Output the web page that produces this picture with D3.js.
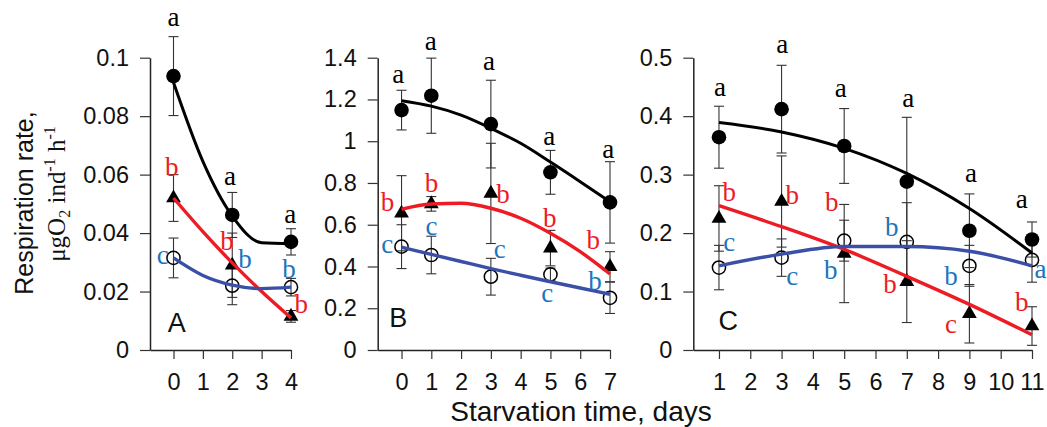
<!DOCTYPE html>
<html>
<head>
<meta charset="utf-8">
<script src="https://cdn.jsdelivr.net/npm/d3@7/dist/d3.min.js"></script>
<style>
  html, body { margin: 0; padding: 0; background: #fff; }
  svg { display: block; }
</style>
</head>
<body>
<svg id="chart" width="1047" height="427"></svg>
<script>
// ---------------- DATA ----------------
// Panel A
const daysA = [0, 2, 4];
const fedA = [0.0937, 0.0462, 0.037];
const fedSdA = [0.0135, 0.0077, 0.0045];
const triA = [0.052, 0.029, 0.0115];
const triSdA = [0.008, 0.011, 0.002];
const openA = [0.0315, 0.022, 0.0215];
const openSdA = [0.0068, 0.0065, 0.003];
const fitDaysA = [0, 1, 2, 3, 4];
const fedFitA = [0.0915, 0.0645, 0.0458, 0.0367, 0.0364];
const triFitA = [0.052, 0.0405, 0.0298, 0.0200, 0.0110];
const openFitA = [0.0315, 0.0255, 0.0222, 0.0210, 0.0215];
const yTickValsA = [0, 0.02, 0.04, 0.06, 0.08, 0.1];
const yTickLabelsA = ["0", "0.02", "0.04", "0.06", "0.08", "0.1"];
const xTicksA = [0, 1, 2, 3, 4];
const lettersA = [
  {d: 0, v: 0.1129, t: "a", s: "fed"}, {d: 1.92, v: 0.0588, t: "a", s: "fed"}, {d: 3.97, v: 0.0455, t: "a", s: "fed"},
  {d: -0.06, v: 0.0629, t: "b", s: "tri"}, {d: 1.82, v: 0.0376, t: "b", s: "tri"}, {d: 4.35, v: 0.0161, t: "b", s: "tri"},
  {d: -0.37, v: 0.0318, t: "c", s: "open"}, {d: 2.43, v: 0.0315, t: "b", s: "open"}, {d: 3.93, v: 0.028, t: "b", s: "open"}
];

// Panel B
const daysB = [0, 1, 3, 5, 7];
const fedB = [1.149, 1.218, 1.082, 0.851, 0.707];
const fedSdB = [0.095, 0.18, 0.21, 0.105, 0.195];
const triB = [0.655, 0.70, 0.75, 0.488, 0.399];
const triSdB = [0.18, 0.035, 0.24, 0.085, 0.072];
const openB = [0.495, 0.455, 0.351, 0.362, 0.25];
const openSdB = [0.105, 0.09, 0.088, 0.03, 0.075];
const fitDaysB = [0, 1, 2, 3, 4, 5, 6, 7];
const fedFitB = [1.194, 1.168, 1.125, 1.062, 0.99, 0.90, 0.806, 0.71];
const triFitB = [0.674, 0.699, 0.703, 0.679, 0.631, 0.559, 0.471, 0.364];
const openFitB = [0.492, 0.458, 0.424, 0.390, 0.358, 0.327, 0.297, 0.267];
const yTickValsB = [0, 0.2, 0.4, 0.6, 0.8, 1, 1.2, 1.4];
const yTickLabelsB = ["0", "0.2", "0.4", "0.6", "0.8", "1", "1.2", "1.4"];
const xTicksB = [0, 1, 2, 3, 4, 5, 6, 7];
const lettersB = [
  {d: -0.11, v: 1.309, t: "a", s: "fed"}, {d: 0.98, v: 1.469, t: "a", s: "fed"}, {d: 2.94, v: 1.373, t: "a", s: "fed"},
  {d: 4.96, v: 1.014, t: "a", s: "fed"}, {d: 6.94, v: 0.950, t: "a", s: "fed"},
  {d: -0.47, v: 0.710, t: "b", s: "tri"}, {d: 1.01, v: 0.801, t: "b", s: "tri"}, {d: 3.41, v: 0.753, t: "b", s: "tri"},
  {d: 4.98, v: 0.636, t: "b", s: "tri"}, {d: 6.44, v: 0.530, t: "b", s: "tri"},
  {d: -0.48, v: 0.495, t: "c", s: "open"}, {d: 1.01, v: 0.583, t: "c", s: "open"}, {d: 3.30, v: 0.471, t: "c", s: "open"},
  {d: 4.89, v: 0.263, t: "c", s: "open"}, {d: 6.50, v: 0.335, t: "b", s: "open"}
];

// Panel C
const daysC = [1, 3, 5, 7, 9, 11];
const fedC = [0.364, 0.412, 0.349, 0.288, 0.204, 0.189];
const fedSdC = [0.053, 0.075, 0.064, 0.11, 0.063, 0.03];
const triC = [0.225, 0.254, 0.165, 0.117, 0.062, 0.041];
const triSdC = [0.056, 0.078, 0.084, 0.07, 0.05, 0.033];
const openC = [0.141, 0.158, 0.187, 0.185, 0.144, 0.154];
const openSdC = [0.038, 0.032, 0.035, 0.067, 0.035, 0.038];
const fitDaysC = [1, 3, 5, 7, 9, 11];
const fedFitC = [0.389, 0.373, 0.345, 0.302, 0.242, 0.166];
const triFitC = [0.247, 0.211, 0.172, 0.126, 0.078, 0.026];
const openFitC = [0.144, 0.164, 0.177, 0.177, 0.169, 0.144];
const yTickValsC = [0, 0.1, 0.2, 0.3, 0.4, 0.5];
const yTickLabelsC = ["0", "0.1", "0.2", "0.3", "0.4", "0.5"];
const xTicksC = [1, 2, 3, 4, 5, 6, 7, 8, 9, 10, 11];
const lettersC = [
  {d: 1.03, v: 0.446, t: "a", s: "fed"}, {d: 3.02, v: 0.519, t: "a", s: "fed"}, {d: 4.89, v: 0.444, t: "a", s: "fed"},
  {d: 7.05, v: 0.426, t: "a", s: "fed"}, {d: 9.05, v: 0.299, t: "a", s: "fed"}, {d: 10.67, v: 0.254, t: "a", s: "fed"},
  {d: 1.33, v: 0.271, t: "b", s: "tri"}, {d: 3.34, v: 0.267, t: "b", s: "tri"}, {d: 4.60, v: 0.254, t: "b", s: "tri"},
  {d: 6.46, v: 0.114, t: "b", s: "tri"}, {d: 8.41, v: 0.041, t: "c", s: "tri"}, {d: 10.67, v: 0.083, t: "b", s: "tri"},
  {d: 1.33, v: 0.180, t: "c", s: "open"}, {d: 3.34, v: 0.123, t: "c", s: "open"}, {d: 4.57, v: 0.138, t: "b", s: "open"},
  {d: 6.52, v: 0.211, t: "b", s: "open"}, {d: 8.41, v: 0.128, t: "b", s: "open"}, {d: 11.27, v: 0.134, t: "a", s: "open"}
];

const panelNames = ["A", "B", "C"];
const panelLabelPos = [{d: 0.11, v: 0.0096}, {d: -0.11, v: 0.159}, {d: 1.30, v: 0.051}];
const yTitle1 = "Respiration rate,";
const xTitle = "Starvation time, days";

// ---------------- STYLE / LAYOUT ----------------
const lineColor = {fed: "#000000", tri: "#ed1c24", open: "#3a4fa5"};
const letterColor = {fed: "#000000", tri: "#ed1c24", open: "#1b75bc"};
const lineWidth = {fed: 3, tri: 3.4, open: 3.4};
const SANS = "'Liberation Sans', Arial, sans-serif";
const SERIF = "'Liberation Serif', 'Times New Roman', serif";
const Y0 = 350, Y1 = 57.7;

const panels = [
  {xDomain: [-0.8, 4], xRange: [150, 291], yMax: 0.1, days: daysA,
   fed: fedA, fedSd: fedSdA, tri: triA, triSd: triSdA, open: openA, openSd: openSdA,
   fitDays: fitDaysA, fedFit: fedFitA, triFit: triFitA, openFit: openFitA,
   yVals: yTickValsA, yLabels: yTickLabelsA, xTicks: xTicksA, letters: lettersA},
  {xDomain: [-0.8, 7], xRange: [377.7, 610], yMax: 1.4, days: daysB,
   fed: fedB, fedSd: fedSdB, tri: triB, triSd: triSdB, open: openB, openSd: openSdB,
   fitDays: fitDaysB, fedFit: fedFitB, triFit: triFitB, openFit: openFitB,
   yVals: yTickValsB, yLabels: yTickLabelsB, xTicks: xTicksB, letters: lettersB},
  {xDomain: [0.18, 11], xRange: [693.3, 1032], yMax: 0.5, days: daysC,
   fed: fedC, fedSd: fedSdC, tri: triC, triSd: triSdC, open: openC, openSd: openSdC,
   fitDays: fitDaysC, fedFit: fedFitC, triFit: triFitC, openFit: openFitC,
   yVals: yTickValsC, yLabels: yTickLabelsC, xTicks: xTicksC, letters: lettersC}
];

const svg = d3.select("#chart");

panels.forEach((p, pi) => {
  const x = d3.scaleLinear().domain(p.xDomain).range(p.xRange);
  const y = d3.scaleLinear().domain([0, p.yMax]).range([Y0, Y1]);
  const g = svg.append("g");

  // axes
  const yAxis = d3.axisLeft(y).tickValues(p.yVals).tickFormat((d, i) => p.yLabels[i])
    .tickSize(10).tickPadding(11).tickSizeOuter(0);
  const xAxis = d3.axisBottom(x).tickValues(p.xTicks).tickFormat(d3.format("d"))
    .tickSize(9).tickPadding(14).tickSizeOuter(0);
  const ya = g.append("g").attr("transform", `translate(${p.xRange[0]},0)`).call(yAxis);
  const xa = g.append("g").attr("transform", `translate(0,${Y0})`).call(xAxis);
  [ya, xa].forEach(a => {
    a.select(".domain").attr("stroke", "#222").attr("stroke-width", 1.5);
    a.selectAll(".tick line").attr("stroke", "#333").attr("stroke-width", 1.2);
    a.selectAll(".tick text").attr("fill", "#111").style("font-family", SANS).style("font-size", "23.5px");
  });

  // error bars
  const series = ["fed", "tri", "open"];
  series.forEach(s => {
    const vals = p[s], sds = p[s + "Sd"];
    const eg = g.append("g").attr("stroke", "#333").attr("stroke-width", 1.1).attr("fill", "none");
    p.days.forEach((d, i) => {
      const cx = x(d), yt = y(vals[i] + sds[i]), yb = y(Math.max(0, vals[i] - sds[i]));
      eg.append("line").attr("x1", cx).attr("x2", cx).attr("y1", yt).attr("y2", yb);
      eg.append("line").attr("x1", cx - 5).attr("x2", cx + 5).attr("y1", yt).attr("y2", yt);
      eg.append("line").attr("x1", cx - 5).attr("x2", cx + 5).attr("y1", yb).attr("y2", yb);
    });
  });

  // markers
  g.selectAll(".fedpt").data(p.days).enter().append("circle")
    .attr("cx", d => x(d)).attr("cy", (d, i) => y(p.fed[i])).attr("r", 7.3).attr("fill", "#000");
  g.selectAll(".tript").data(p.days).enter().append("path")
    .attr("d", d3.symbol().type(d3.symbolTriangle).size(95))
    .attr("transform", (d, i) => `translate(${x(d)},${y(p.tri[i])})`).attr("fill", "#000");
  g.selectAll(".openpt").data(p.days).enter().append("circle")
    .attr("cx", d => x(d)).attr("cy", (d, i) => y(p.open[i])).attr("r", 6.6)
    .attr("fill", "none").attr("stroke", "#000").attr("stroke-width", 1.5);

  // fitted curves
  series.forEach(s => {
    const fit = p[s + "Fit"];
    const line = d3.line().x(d => x(d)).y((d, i) => y(fit[i])).curve(d3.curveMonotoneX);
    g.append("path").attr("d", line(p.fitDays)).attr("fill", "none")
      .attr("stroke", lineColor[s]).attr("stroke-width", lineWidth[s]).attr("stroke-linecap", "butt");
  });

  // significance letters
  g.selectAll(".lt").data(p.letters).enter().append("text")
    .attr("x", d => x(d.d)).attr("y", d => y(d.v))
    .attr("dy", d => d.t === "b" ? "0.36em" : "0.24em")
    .attr("text-anchor", "middle")
    .style("font-family", SERIF).style("font-size", "27px")
    .attr("fill", d => letterColor[d.s]).text(d => d.t);

  // panel label
  g.append("text").attr("x", x(panelLabelPos[pi].d)).attr("y", y(panelLabelPos[pi].v))
    .attr("dy", "0.36em").attr("text-anchor", "middle")
    .style("font-family", SANS).style("font-size", "27px").attr("fill", "#111")
    .text(panelNames[pi]);
});

// y-axis title (two lines)
svg.append("text").attr("transform", "translate(33,203) rotate(-90)")
  .attr("text-anchor", "middle").style("font-family", SANS).style("font-size", "25px").attr("fill", "#111")
  .text(yTitle1);
const t2 = svg.append("text").attr("transform", "translate(65,194) rotate(-90)")
  .attr("text-anchor", "middle").style("font-family", SERIF).style("font-size", "25px").attr("fill", "#111");
t2.append("tspan").text("μgO");
t2.append("tspan").attr("dy", 5).style("font-size", "16px").text("2");
t2.append("tspan").attr("dy", -5).text(" ind");
t2.append("tspan").attr("dy", -10).style("font-size", "16px").text("-1");
t2.append("tspan").attr("dy", 10).text(" h");
t2.append("tspan").attr("dy", -10).style("font-size", "16px").text("-1");

// x-axis title
svg.append("text").attr("x", 581).attr("y", 421).attr("text-anchor", "middle")
  .style("font-family", SANS).style("font-size", "28px").attr("fill", "#111").text(xTitle);
</script>
</body>
</html>
